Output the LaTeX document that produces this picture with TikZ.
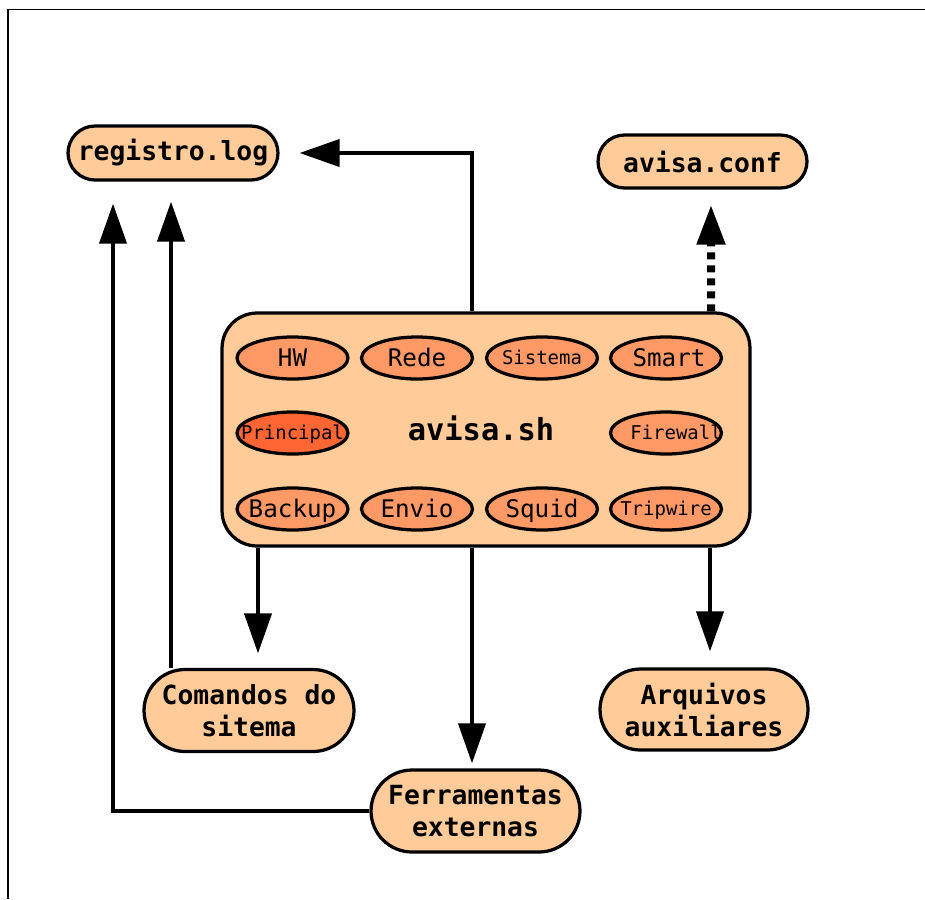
\documentclass[tikz,border=0pt]{standalone}
\usepackage{fontspec}
\setmonofont{DejaVu Sans Mono}
\usetikzlibrary{arrows.meta,shapes.misc,shapes.geometric,calc}
\definecolor{pessego}{HTML}{FFCC99}
\definecolor{laranja}{HTML}{FF9966}
\definecolor{vermelho}{HTML}{FF6633}
\newcommand{\modtxt}[1]{\makebox[0pt]{\rule[-0.2em]{0pt}{1.13em}#1}}
\tikzset{
  arq/.style={rounded rectangle, draw, line width=0.065cm, fill=pessego, align=center, inner sep=0pt,
    font=\ttfamily\bfseries\fontsize{15}{18.2}\selectfont},
  modulo/.style={ellipse, draw, line width=0.065cm, fill=laranja, minimum width=2.22cm, minimum height=0.84cm,
    inner sep=0pt, font=\ttfamily\fontsize{13.8}{14}\selectfont},
  modpeq/.style={modulo, font=\ttfamily\fontsize{10.8}{14}\selectfont},
  seta/.style={line width=0.08cm, -{Triangle[length=0.8cm,width=0.54cm]}},
}

\begin{document}
\begin{tikzpicture}[x=0.02cm,y=-0.02cm]
  \useasboundingbox (0,0) rectangle (925,899);
  \draw[line width=0.04cm] (8,899) -- (8,9.5) -- (925,9.5);

  \node[arq, minimum width=4.2cm, minimum height=1.08cm] (registro) at (173,153) {registro.log};
  \node[arq, minimum width=4.18cm, minimum height=1.06cm] (conf) at (702.5,161.5) {avisa.conf};
  \node[arq, minimum width=4.2cm, minimum height=1.64cm] (comandos) at (249,710.5) {Comandos do\\sitema};
  \node[arq, minimum width=4.18cm, minimum height=1.64cm] (ferramentas) at (475.5,811) {Ferramentas\\externas};
  \node[arq, minimum width=4.16cm, minimum height=1.62cm] (arquivos) at (704,709.5) {Arquivos\\auxiliares};

  \node[draw, rounded corners=0.7cm, line width=0.065cm, fill=pessego, minimum width=10.56cm, minimum height=4.66cm,
    font=\ttfamily\bfseries\fontsize{17.3}{20}\selectfont] (avisa) at (486,429.5) {\modtxt{avisa.sh\hspace{0.2cm}}};

  \node[modulo] (hw) at (292.5,358) {\modtxt{HW}};
  \node[modulo] (rede) at (417,358) {\modtxt{Rede}};
  \node[modpeq] (sistema) at (542,358) {\modtxt{Sistema}};
  \node[modulo] (smart) at (666,358) {\modtxt{\hspace{0.12cm}Smart}};
  \node[modpeq, fill=vermelho] (principal) at (292.5,433) {\modtxt{Principal}};
  \node[modpeq] (firewall) at (666,433) {\modtxt{\hspace{0.4cm}Firewall}};
  \node[modulo] (backup) at (292.5,509) {\modtxt{Backup}};
  \node[modulo] (envio) at (417,509) {\modtxt{Envio}};
  \node[modulo] (squid) at (542,509) {\modtxt{Squid}};
  \node[modpeq] (tripwire) at (666,509) {\modtxt{Tripwire}};

  % saidas do avisa.sh
  \draw[seta, shorten >=0.4cm] ($(avisa.north)+(-14,0)$) |- (registro.east);
  \draw[seta, line width=0.16cm, dash pattern=on 0.14cm off 0.12cm, shorten >=0.3cm]
    ($(avisa.north)+(225,0)$) -- ($(conf.south)+(8.5,0)$);
  \draw[seta, shorten >=0.29cm] ($(avisa.south)+(-228,0)$) -- ($(comandos.north)+(9,0)$);
  \draw[seta, shorten >=0.1cm] ($(avisa.south)+(-14,0)$) -- ($(ferramentas.north)+(-3.5,0)$);
  \draw[seta, shorten >=0.32cm] ($(avisa.south)+(224,0)$) -- ($(arquivos.north)+(6,0)$);

  % registro
  \draw[seta, shorten >=0.4cm] ($(comandos.north)+(-78,0)$) -- ($(registro.south)+(-2,0)$);
  \draw[seta, shorten >=0.44cm] (ferramentas.west) -| ($(registro.south)+(-60,0)$);
\end{tikzpicture}
\end{document}
